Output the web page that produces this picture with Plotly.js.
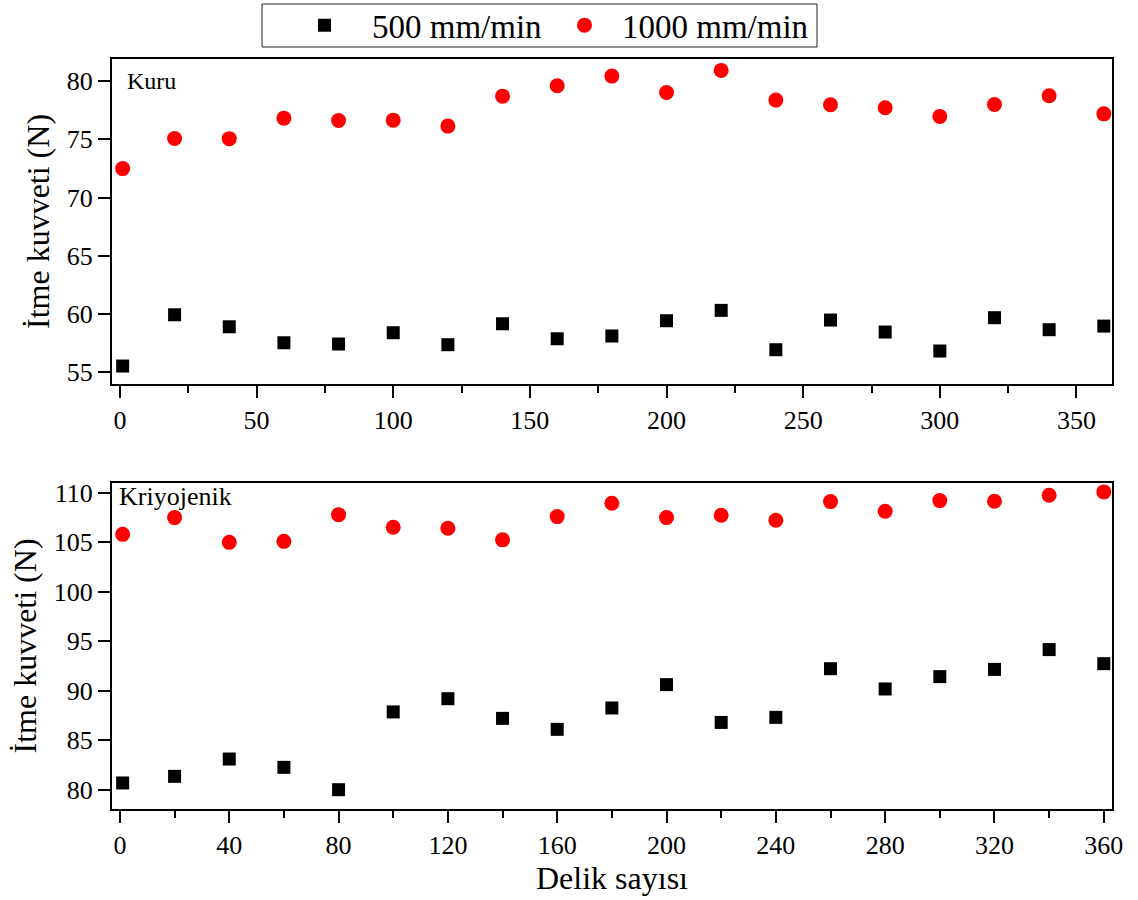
<!DOCTYPE html>
<html>
<head>
<meta charset="utf-8">
<script src="https://cdn.plot.ly/plotly-3.0.1.min.js"></script>
<style>html,body{margin:0;padding:0;background:#fff;}</style>
</head>
<body>
<div id="chart" style="width:1138px;height:900px;"></div>
<script>
// Delik sayısı (hole count)
const holes = [1, 20, 40, 60, 80, 100, 120, 140, 160, 180, 200, 220, 240, 260, 280, 300, 320, 340, 360];

// Kuru (dry)
const kuru500  = [55.54, 59.94, 58.91, 57.54, 57.43, 58.40, 57.37, 59.17, 57.88, 58.12, 59.43, 60.32, 56.94, 59.49, 58.46, 56.83, 59.69, 58.66, 58.97];
const kuru1000 = [72.49, 75.08, 75.06, 76.82, 76.62, 76.65, 76.14, 78.71, 79.60, 80.43, 79.03, 80.92, 78.37, 77.97, 77.71, 76.97, 78.00, 78.74, 77.19];

// Kriyojenik (cryogenic)
const kriyo500  = [80.68, 81.35, 83.10, 82.26, 80.00, 87.86, 89.20, 87.21, 86.10, 88.26, 90.62, 86.80, 87.31, 92.23, 90.18, 91.43, 92.16, 94.16, 92.74];
const kriyo1000 = [105.81, 107.50, 105.00, 105.10, 107.80, 106.52, 106.42, 105.25, 107.60, 108.95, 107.50, 107.74, 107.23, 109.12, 108.14, 109.22, 109.15, 109.76, 110.10];

const seriesNames = ["500 mm/min", "1000 mm/min"];
const panelLabels = ["Kuru", "Kriyojenik"];
const yTitle = "İtme kuvveti (N)";
const xTitle = "Delik sayısı";

const FONT = 'Liberation Serif, Times New Roman, serif';
const sqMarker = {symbol: 'square', size: 13, color: '#000000'};
const ciMarker = {symbol: 'circle', size: 15, color: '#ff0000'};

const traces = [
  {x: holes, y: kuru500, type: 'scatter', mode: 'markers', name: seriesNames[0], marker: sqMarker, xaxis: 'x', yaxis: 'y', legend: 'legend'},
  {x: holes, y: kuru1000, type: 'scatter', mode: 'markers', name: seriesNames[1], marker: ciMarker, xaxis: 'x', yaxis: 'y', legend: 'legend2'},
  {x: holes, y: kriyo500, type: 'scatter', mode: 'markers', name: seriesNames[0], marker: sqMarker, xaxis: 'x2', yaxis: 'y2', showlegend: false},
  {x: holes, y: kriyo1000, type: 'scatter', mode: 'markers', name: seriesNames[1], marker: ciMarker, xaxis: 'x2', yaxis: 'y2', showlegend: false}
];

function ax(extra) {
  return Object.assign({
    showline: true, linecolor: '#000', linewidth: 2, mirror: true,
    ticks: 'outside', ticklen: 12, tickwidth: 2, tickcolor: '#000',
    showgrid: false, zeroline: false, automargin: false,
    tickfont: {family: FONT, size: 26, color: '#000'}
  }, extra);
}

function leg(xpx, itemw) {
  return {
    orientation: 'h', xref: 'container', yref: 'container',
    x: xpx / 1138, xanchor: 'left', y: 0.972, yanchor: 'middle',
    font: {family: FONT, size: 33, color: '#000'},
    bgcolor: 'rgba(0,0,0,0)', borderwidth: 0, itemwidth: itemw
  };
}

const layout = {
  width: 1138, height: 900,
  margin: {l: 112, r: 26, t: 59, b: 91, autoexpand: false},
  paper_bgcolor: '#fff', plot_bgcolor: '#fff',
  font: {family: FONT, color: '#000'},
  showlegend: true,
  legend: leg(277, 85),
  legend2: leg(547, 65),
  xaxis: ax({
    domain: [0, 1], anchor: 'y', range: [-2.9, 363], dtick: 50, tick0: 0,
    minor: {dtick: 25, ticks: 'outside', ticklen: 7, tickwidth: 2, tickcolor: '#000'}
  }),
  yaxis: ax({
    domain: [0.5667, 1], anchor: 'x', range: [54.0, 81.9], dtick: 5, tick0: 0,
    title: {text: yTitle, font: {family: FONT, size: 32, color: '#000'}, standoff: 8}
  }),
  xaxis2: ax({
    domain: [0, 1], anchor: 'y2', range: [-2.9, 363], dtick: 40, tick0: 0,
    minor: {dtick: 20, ticks: 'outside', ticklen: 7, tickwidth: 2, tickcolor: '#000'},
    title: {text: xTitle, font: {family: FONT, size: 32, color: '#000'}, standoff: 6}
  }),
  yaxis2: ax({
    domain: [0, 0.4347], anchor: 'x2', range: [78.05, 111.0], dtick: 5, tick0: 0,
    title: {text: yTitle, font: {family: FONT, size: 32, color: '#000'}, standoff: 8}
  }),
  shapes: [
    {type: 'rect', xref: 'paper', yref: 'paper', x0: 0.15, x1: 0.705, y0: 1.016, y1: 1.0733,
     line: {color: '#222', width: 1}, fillcolor: 'rgba(0,0,0,0)'}
  ],
  annotations: [
    {text: panelLabels[0], xref: 'x domain', yref: 'y domain', x: 0.013, y: 0.932,
     xanchor: 'left', yanchor: 'middle', showarrow: false, font: {family: FONT, size: 24, color: '#000'}},
    {text: panelLabels[1], xref: 'x2 domain', yref: 'y2 domain', x: 0.005, y: 0.957,
     xanchor: 'left', yanchor: 'middle', showarrow: false, font: {family: FONT, size: 26, color: '#000'}}
  ]
};

Plotly.newPlot('chart', traces, layout, {displayModeBar: false, staticPlot: true});
</script>
</body>
</html>
